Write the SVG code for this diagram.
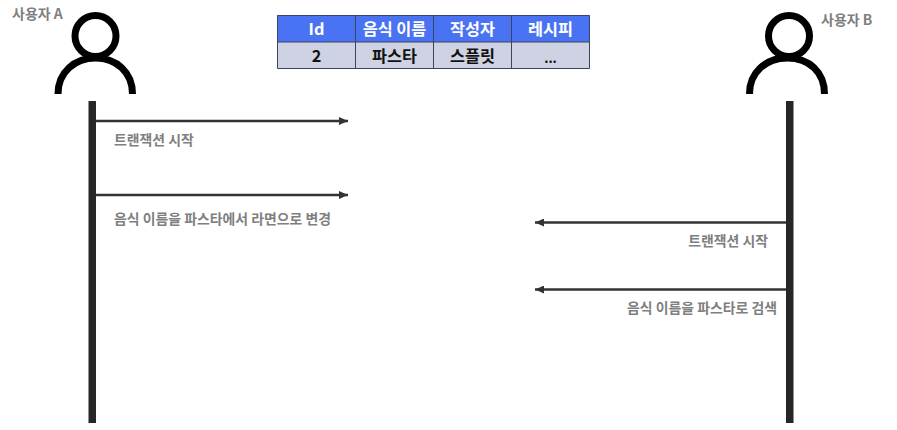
<svg xmlns="http://www.w3.org/2000/svg" width="897" height="430" viewBox="0 0 897 430">
<style>
text{font-family:"Noto Sans CJK KR","Liberation Sans",sans-serif;font-weight:700}
.lab{font-size:13.900px;fill:#7f7f7f}
.user{font-size:14px;fill:#7f7f7f}
.hd{font-size:16.300px;fill:#fff;text-anchor:middle}
.cell{font-size:16.300px;fill:#111;text-anchor:middle}
.icon{fill:none;stroke:#000;stroke-width:7}
.msg{stroke:#333;stroke-width:2.500;fill:none}
.tl{stroke:#3a4560;stroke-width:1;fill:none}
</style>
<defs>
<marker id="ah" markerUnits="userSpaceOnUse" markerWidth="10" markerHeight="8" refX="9" refY="4" orient="auto"><path d="M0 0L9 4L0 8Z" fill="#333"/></marker>
</defs>
<rect width="897" height="430" fill="#fff"/>
<g id="table">
<rect x="277" y="15.500" width="313" height="26.500" fill="#4a73f3"/>
<rect x="277" y="42" width="313" height="27" fill="#ced2e2"/>
<path class="tl" d="M277.500 15.500H589.500V68.500H277.500ZM277.500 42H589.500M355.500 15.500V68.500M433.500 15.500V68.500M511.500 15.500V68.500"/>
<text class="hd" x="316.500" y="35">Id</text>
<text class="hd" x="394.500" y="35">음식 이름</text>
<text class="hd" x="472.500" y="35">작성자</text>
<text class="hd" x="550.500" y="35">레시피</text>
<text class="cell" x="316.500" y="61.500">2</text>
<text class="cell" x="394.500" y="61.500">파스타</text>
<text class="cell" x="472.500" y="61.500">스플릿</text>
<text class="cell" x="550.500" y="63" style="font-size:13px">...</text>
</g>
<g id="user-a">
<circle class="icon" cx="95.500" cy="36" r="20.500"/>
<path class="icon" d="M58 94C58 72 75 58 95.500 58S132.500 72 132.500 94"/>
<text class="user" x="12" y="19">사용자 A</text>
<rect x="88.500" y="101" width="7.500" height="322" fill="#262626"/>
</g>
<g id="user-b">
<circle class="icon" cx="789" cy="36" r="20.500"/>
<path class="icon" d="M749.500 94C749.500 72 766 58 787.500 58S824.500 72 824.500 94"/>
<text class="user" x="821" y="25">사용자 B</text>
<rect x="786" y="101" width="7.500" height="322" fill="#262626"/>
</g>
<g id="connectors">
<line class="msg" x1="96" y1="121" x2="348" y2="121" marker-end="url(#ah)"/>
<line class="msg" x1="96" y1="195" x2="348" y2="195" marker-end="url(#ah)"/>
<line class="msg" x1="786" y1="222.500" x2="535" y2="222.500" marker-end="url(#ah)"/>
<line class="msg" x1="786" y1="289.500" x2="535" y2="289.500" marker-end="url(#ah)"/>
</g>
<g id="labels">
<text class="lab" x="114" y="145">트랜잭션 시작</text>
<text class="lab" x="114" y="224">음식 이름을 파스타에서 라면으로 변경</text>
<text class="lab" x="768" y="246" text-anchor="end">트랜잭션 시작</text>
<text class="lab" x="777" y="313" text-anchor="end">음식 이름을 파스타로 검색</text>
</g>
</svg>
